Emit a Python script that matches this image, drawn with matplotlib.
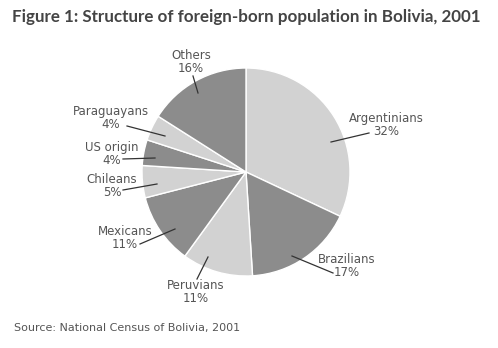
import matplotlib.pyplot as plt

# data
labels = ['Argentinians', 'Brazilians', 'Peruvians', 'Mexicans',
          'Chileans', 'US origin', 'Paraguayans', 'Others']
shares = [32, 17, 11, 11, 5, 4, 4, 16]
colors = ['#d2d2d2', '#8c8c8c', '#d2d2d2', '#8c8c8c',
          '#d2d2d2', '#8c8c8c', '#d2d2d2', '#8c8c8c']

# label text position and leader line (start inside slice, end near text), in pixels
label_pos = [(386, 125), (347, 266), (196, 292), (125, 238),
             (112, 186), (112, 154), (111, 118), (191, 62)]
leaders = [((331, 142), (369, 133)), ((292, 256), (333, 273)),
           ((208, 257), (197, 279)), ((175, 229), (140, 244)),
           ((157, 184), (123, 190)), ((155, 158), (123, 159)),
           ((165, 136), (127, 126)), ((198, 93), (193, 76))]

W, H = 498, 348
fig = plt.figure(figsize=(W / 100, H / 100), dpi=100)
ax = fig.add_axes([0, 0, 1, 1])
ax.set_xlim(0, W)
ax.set_ylim(0, H)
ax.set_aspect('equal')
ax.axis('off')

# pie centred at (246, 172) px, radius 104 px
ax.pie(shares, colors=colors, startangle=90, counterclock=False,
       center=(246, H - 172), radius=104,
       wedgeprops=dict(edgecolor='white', linewidth=1))
ax.set_xlim(0, W)
ax.set_ylim(0, H)

txt_col = '#555555'
for lab, val, (tx, ty), (p0, p1) in zip(labels, shares, label_pos, leaders):
    ax.text(tx, H - ty, f'{lab}\n{val}%', ha='center', va='center',
            fontsize=8.5, color=txt_col, linespacing=1.05)
    ax.plot([p0[0], p1[0]], [H - p0[1], H - p1[1]], color='#333333', lw=0.9)

title = ax.text(12, H - 17, 'Figure 1: Structure of foreign-born population in Bolivia, 2001',
                ha='left', va='center', fontsize=11, fontweight='bold',
                family='Lato', color='#444444')
# scale title to the same width as in the reference (~468 px)
r = fig.canvas.get_renderer()
w = title.get_window_extent(renderer=r).width
title.set_fontsize(11 * 468 / w)

ax.text(14, H - 328, 'Source: National Census of Bolivia, 2001',
        ha='left', va='center', fontsize=8, color=txt_col)

fig.savefig('out.png', dpi=100)
